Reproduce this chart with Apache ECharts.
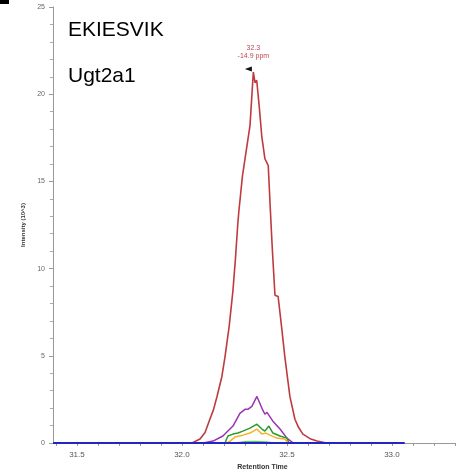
<!DOCTYPE html>
<html lang="en">
<head>
    <meta charset="UTF-8">
    <title>EKIESVIK Ugt2a1</title>
    <script src="https://cdn.jsdelivr.net/npm/echarts@6/dist/echarts.min.js"></script>
    <style>
        html, body { margin: 0; padding: 0; background: #fff; }
        #chart1 { width: 456px; height: 476px; }
    </style>
</head>
<body>
<div id="chart1"></div>
<script>
    // retention time (min) / intensity (10^3)
    var redTrace = [[31.386,0],[32.00,0],[32.048,0],[32.086,0.23],[32.11,0.6],[32.133,1.36],[32.15,1.9],
        [32.167,2.67],[32.19,3.8],[32.205,4.94],[32.225,6.7],[32.243,8.75],[32.255,10.6],[32.265,12.4],
        [32.271,13.3],[32.276,13.86],[32.288,15.3],[32.292,15.4],[32.324,18.2],[32.34,21.27],[32.348,20.66],
        [32.356,20.8],[32.368,19.3],[32.38,17.6],[32.395,16.3],[32.399,16.2],[32.411,15.9],[32.42,13.6],
        [32.43,11.2],[32.443,8.47],[32.458,8.4],[32.475,6.6],[32.49,4.94],[32.514,2.67],[32.538,1.36],
        [32.555,0.9],[32.576,0.51],[32.61,0.25],[32.643,0.11],[32.69,0],[33.06,0]];
    var purpleTrace = [[31.386,0],[32.10,0],[32.148,0.11],[32.195,0.4],[32.243,0.97],[32.276,1.7],
        [32.3,1.93],[32.314,1.93],[32.333,2.1],[32.357,2.67],[32.381,1.99],[32.395,1.65],[32.405,1.76],
        [32.433,1.25],[32.467,0.8],[32.5,0.28],[32.53,0],[33.06,0]];
    var greenTrace = [[31.386,0],[32.205,0],[32.219,0.4],[32.243,0.51],[32.267,0.57],[32.29,0.68],
        [32.324,0.85],[32.357,1.08],[32.381,0.8],[32.395,0.68],[32.414,0.97],[32.433,0.57],[32.467,0.4],
        [32.5,0.28],[32.51,0],[33.06,0]];
    var orangeTrace = [[31.386,0],[32.215,0],[32.229,0.11],[32.252,0.34],[32.29,0.45],[32.324,0.57],
        [32.357,0.8],[32.381,0.51],[32.4,0.57],[32.419,0.45],[32.452,0.28],[32.49,0.23],[32.505,0],[33.06,0]];
    var lightGreenTrace = [[31.386,0],[32.25,0],[32.3,0.08],[32.35,0.1],[32.4,0.06],[32.45,0],[33.06,0]];
    var blueTrace = [[31.386,0],[33.06,0]];

    var xLabelValues = [31.5, 32.0, 32.5, 33.0];
    var xTickValues = [31.4,31.5,31.6,31.7,31.8,31.9,32.0,32.1,32.2,32.3,32.4,32.5,32.6,32.7,32.8,32.9,33.0,33.1,33.2,33.3];
    var apex = [32.34, 21.27];

    var chart = echarts.init(document.getElementById('chart1'), null, {renderer: 'canvas'});

    function trace(data, color, width) {
        return {
            type: 'line',
            data: data,
            symbol: 'none',
            smooth: false,
            lineStyle: {color: color, width: width},
            animation: false
        };
    }

    var red = trace(redTrace, '#bf3a3f', 1.6);
    red.markPoint = {
        symbol: 'triangle',
        symbolSize: [5, 7],
        symbolRotate: 90,
        symbolOffset: [-5, -3],
        itemStyle: {color: '#111'},
        label: {
            show: true,
            position: 'top',
            offset: [5, -1],
            formatter: '32.3\n-14.9 ppm',
            color: '#c0484c',
            fontSize: 7,
            lineHeight: 8,
            fontFamily: 'Arial'
        },
        data: [{coord: apex}]
    };

    var option = {
        animation: false,
        grid: {left: 53, right: 0, top: 7, bottom: 29},
        xAxis: {
            type: 'value',
            min: 31.386,
            max: 33.305,
            name: 'Retention Time',
            nameLocation: 'middle',
            nameGap: 21,
            nameTextStyle: {fontSize: 7, fontWeight: 'bold', color: '#333', fontFamily: 'Arial', padding: [0, 0, 0, 16]},
            axisLine: {lineStyle: {color: '#999'}},
            axisTick: {customValues: xTickValues, length: 3, lineStyle: {color: '#999'}},
            axisLabel: {customValues: xLabelValues, formatter: function (v) { return v.toFixed(1); },
                fontSize: 8, color: '#555', margin: 8, fontFamily: 'Arial'},
            splitLine: {show: false}
        },
        yAxis: {
            type: 'value',
            min: 0,
            max: 25,
            interval: 5,
            name: 'Intensity (10^3)',
            nameLocation: 'middle',
            nameGap: 22,
            nameTextStyle: {fontSize: 6, fontWeight: 'bold', color: '#333', fontFamily: 'Arial'},
            axisLine: {show: true, lineStyle: {color: '#999'}},
            axisTick: {show: true, length: 4, lineStyle: {color: '#999'}},
            minorTick: {show: true, splitNumber: 5, length: 3, lineStyle: {color: '#aaa'}},
            axisLabel: {fontSize: 7, color: '#666', margin: 8, fontFamily: 'Arial'},
            splitLine: {show: false}
        },
        graphic: [
            {type: 'rect', left: 0, top: 0, shape: {width: 9, height: 4}, style: {fill: '#000'}},
            {type: 'text', left: 68, top: 20, style: {text: 'EKIESVIK', font: '21px Arial', fill: '#000'}},
            {type: 'text', left: 68, top: 66, style: {text: 'Ugt2a1', font: '21px Arial', fill: '#000'}}
        ],
        series: [
            red,
            trace(purpleTrace, '#9a32b4', 1.5),
            trace(greenTrace, '#2a9a2a', 1.5),
            trace(orangeTrace, '#f6b12a', 1.5),
            trace(lightGreenTrace, '#5ccc5c', 1.2),
            trace(blueTrace, '#2424c4', 2)
        ]
    };
    chart.setOption(option);
</script>
</body>
</html>
